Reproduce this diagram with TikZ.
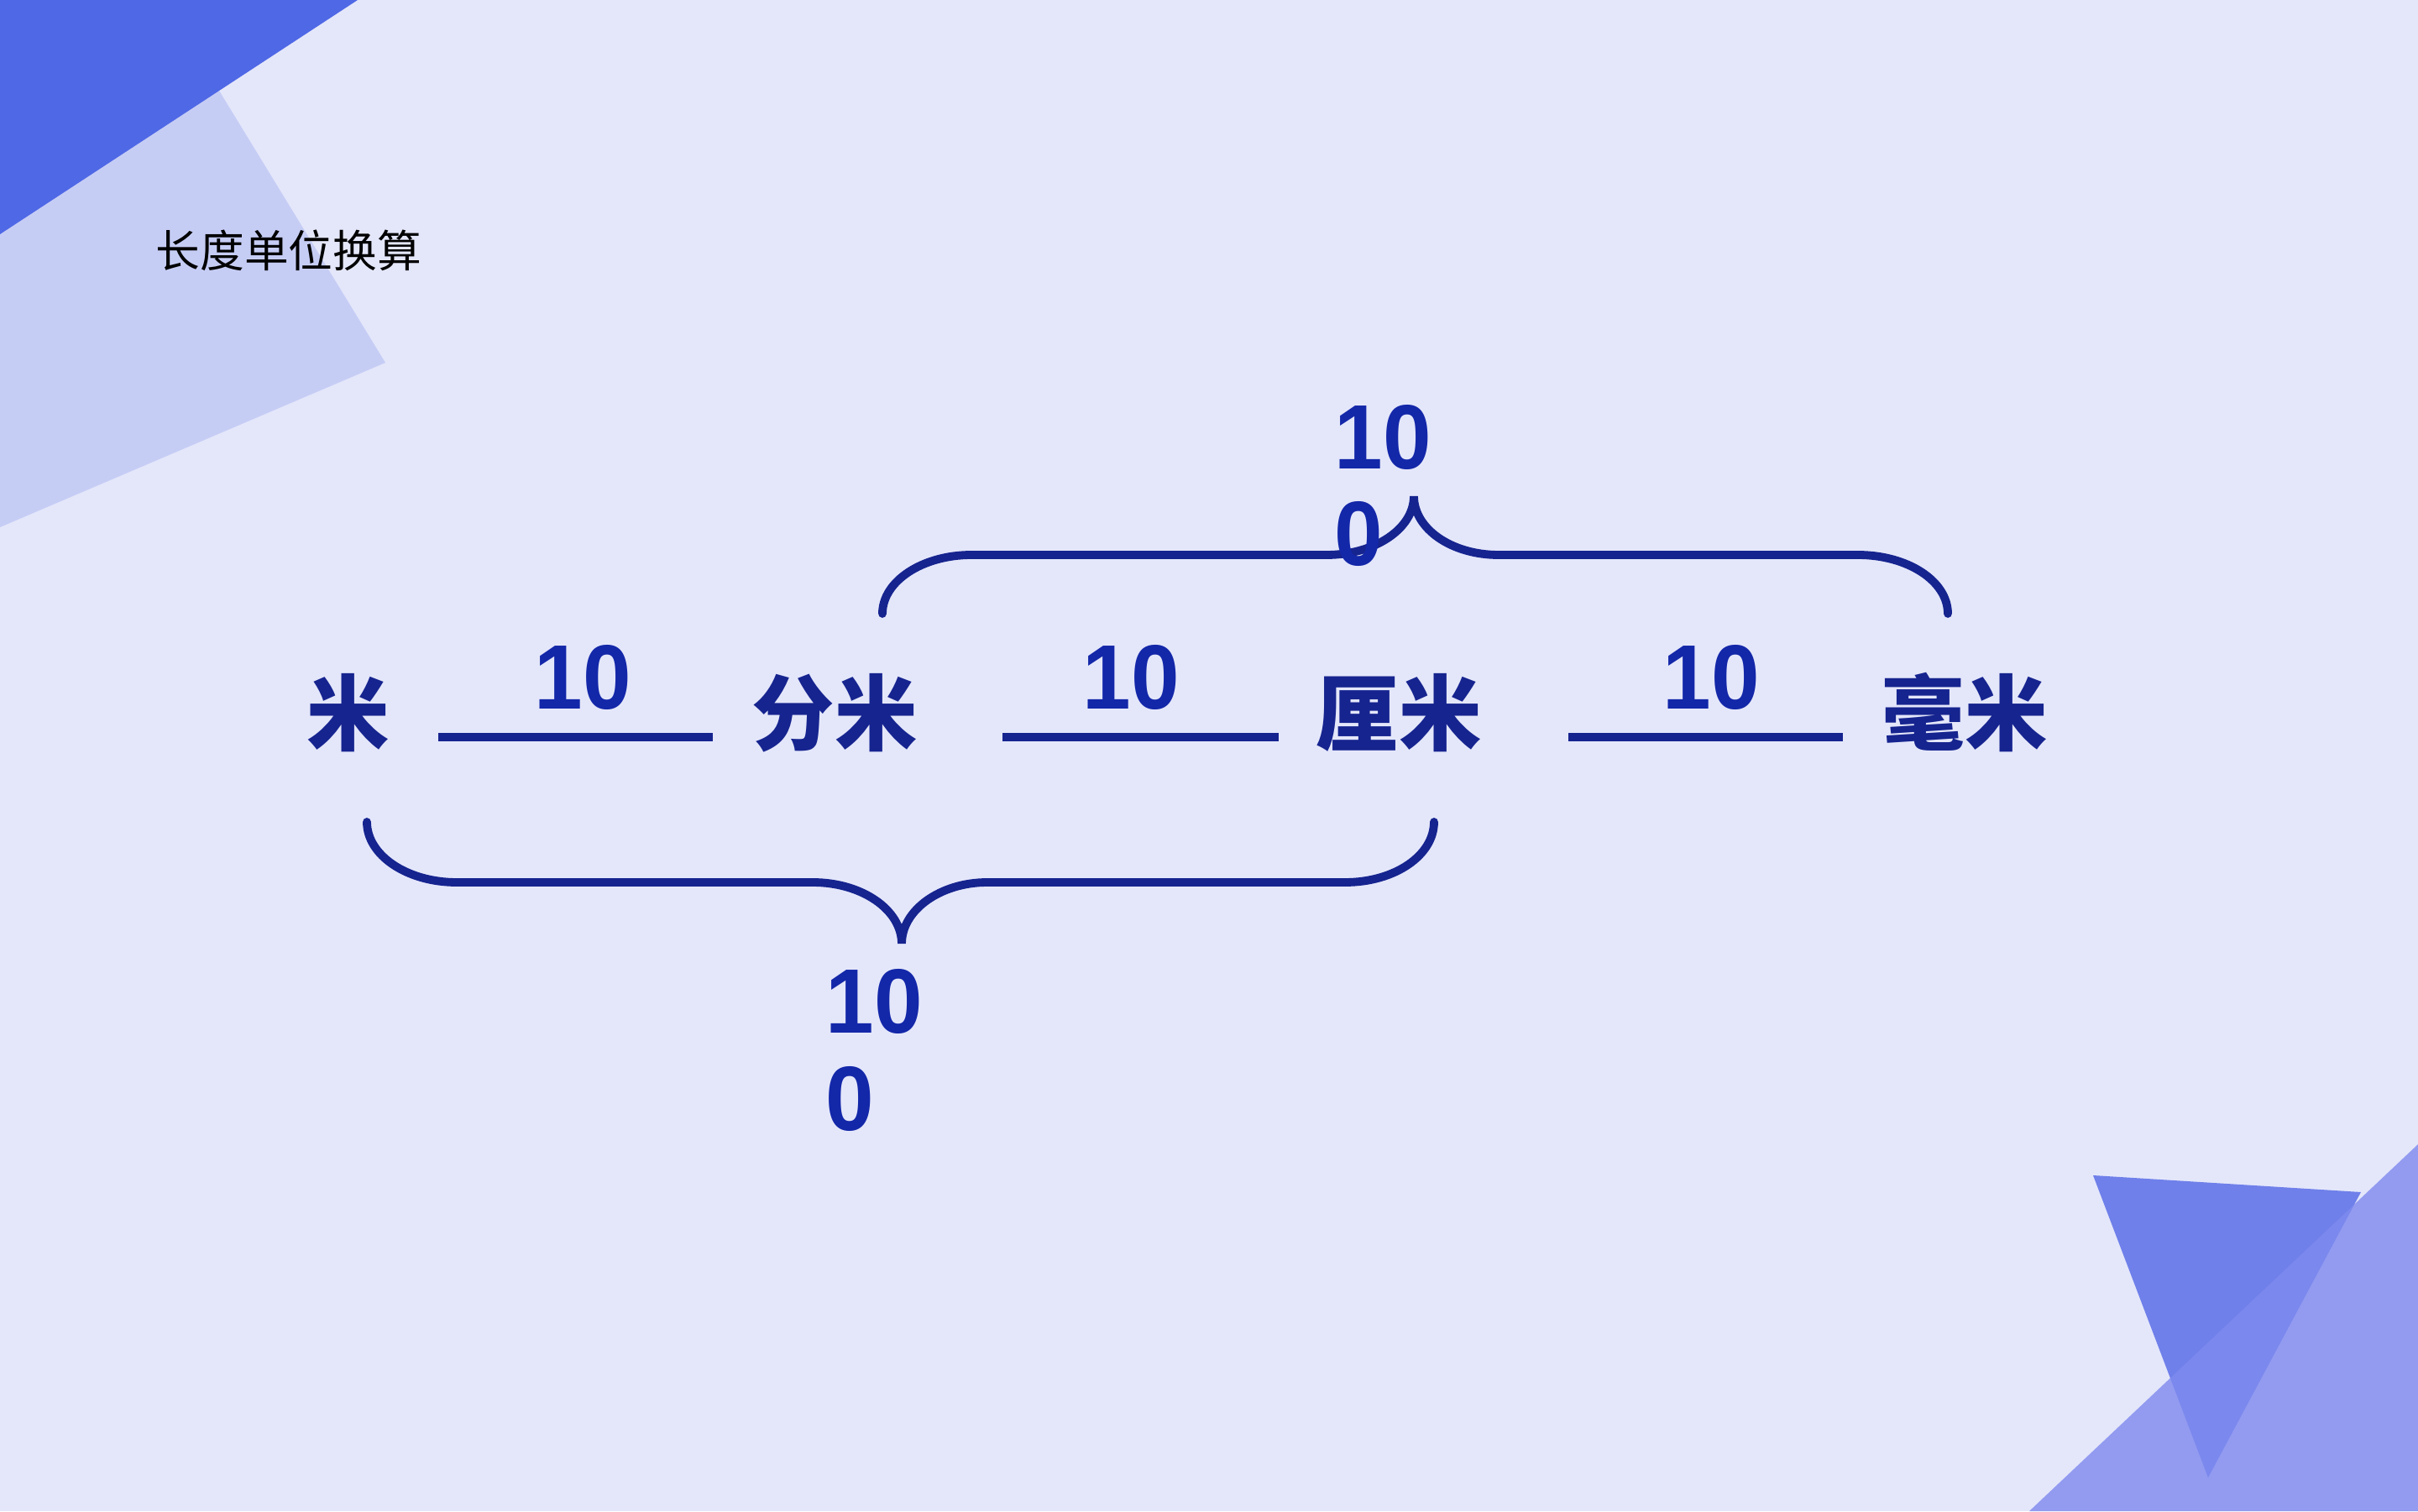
\documentclass[tikz,border=0pt]{standalone}
\usepackage{fontspec}
\setmainfont{Liberation Sans}
\newfontfamily\cjk{Noto Sans CJK SC}
\newfontfamily\numfont[FakeStretch=0.95]{Liberation Sans}
\definecolor{pagebg}{HTML}{E4E7FA}
\definecolor{cornerdark}{HTML}{4F68E6}
\definecolor{cornerlight}{HTML}{C6CDF5}
\definecolor{trimid}{HTML}{6F80EA}
\definecolor{tribig}{RGB}{127,138,238}
\definecolor{navy}{HTML}{16248F}
\definecolor{numblue}{HTML}{1327A9}

\begin{document}
\begin{tikzpicture}[
  title/.style={font=\cjk\fontsize{15}{18}\selectfont, text=black, inner sep=0pt, anchor=west},
  unit/.style={font=\cjk\bfseries\fontsize{28}{30}\selectfont, text=navy},
  rule/.style={navy, line width=3pt},
  num/.style={font=\numfont\bfseries\fontsize{31}{33}\selectfont, text=numblue},
  wrapnum/.style={num, align=left, inner sep=0pt, anchor=base west},
  brace/.style={navy, line width=2.8pt, line cap=round}
]

\useasboundingbox (0,0) rectangle (28.8,18);
\fill[pagebg] (0,0) rectangle (28.8,18);

% Corner shapes
\fill[cornerlight] (0,18) -- (1.95,18) -- (4.59,13.68) -- (0,11.72) -- cycle;
\fill[cornerdark] (0,18) -- (4.26,18) -- (0,15.21) -- cycle;
\fill[trimid] (24.93,4.00) -- (28.12,3.80) -- (26.30,0.40) -- cycle;
\fill[tribig, opacity=0.81] (28.8,4.37) -- (24.17,0) -- (28.8,0) -- cycle;

% Title
\node[title] (title) at (1.85,15.02) {长度单位换算};

% Units
\node[unit] (m)  at (4.15,9.51)  {米};
\node[unit] (dm) at (9.94,9.51)  {分米};
\node[unit] (cm) at (16.66,9.51) {厘米};
\node[unit] (mm) at (23.40,9.51) {毫米};

% Rules between units
\coordinate (r1a) at (5.22,9.22);  \coordinate (r1b) at (8.49,9.22);
\coordinate (r2a) at (11.94,9.22); \coordinate (r2b) at (15.23,9.22);
\coordinate (r3a) at (18.68,9.22); \coordinate (r3b) at (21.95,9.22);
\draw[rule] (r1a) -- node[num, above, yshift=4.5pt, xshift=0.09cm] (n1) {10} (r1b);
\draw[rule] (r2a) -- node[num, above, yshift=4.5pt, xshift=-0.11cm] (n2) {10} (r2b);
\draw[rule] (r3a) -- node[num, above, yshift=4.5pt, xshift=0.07cm] (n3) {10} (r3b);

% Top brace: dm to mm
\coordinate (tbL) at (10.51,10.69);
\coordinate (tbM) at (16.84,12.09);
\coordinate (tbR) at (23.20,10.69);
\draw[brace] (tbL) .. controls +(0,0.39) and +(-0.58,0) .. (11.57,11.39)
  -- (15.80,11.39) .. controls +(0.57,0) and +(0,-0.39) .. (tbM)
  .. controls +(0,-0.39) and +(-0.56,0) .. (17.85,11.39)
  -- (22.13,11.39) .. controls +(0.59,0) and +(0,0.39) .. (tbR);
\node[wrapnum] (topnum) at (15.89,11.26) {10\\0};

% Bottom brace: m to cm
\coordinate (bbL) at (4.37,8.21);
\coordinate (bbM) at (10.74,6.76);
\coordinate (bbR) at (17.08,8.21);
\draw[brace] (bbL) .. controls +(0,-0.40) and +(-0.59,0) .. (5.44,7.49)
  -- (9.68,7.49) .. controls +(0.59,0) and +(0,0.40) .. (bbM)
  .. controls +(0,0.40) and +(-0.56,0) .. (11.76,7.49)
  -- (16.02,7.49) .. controls +(0.59,0) and +(0,-0.40) .. (bbR);
\node[wrapnum] (botnum) at (9.83,4.54) {10\\0};

\end{tikzpicture}
\end{document}
